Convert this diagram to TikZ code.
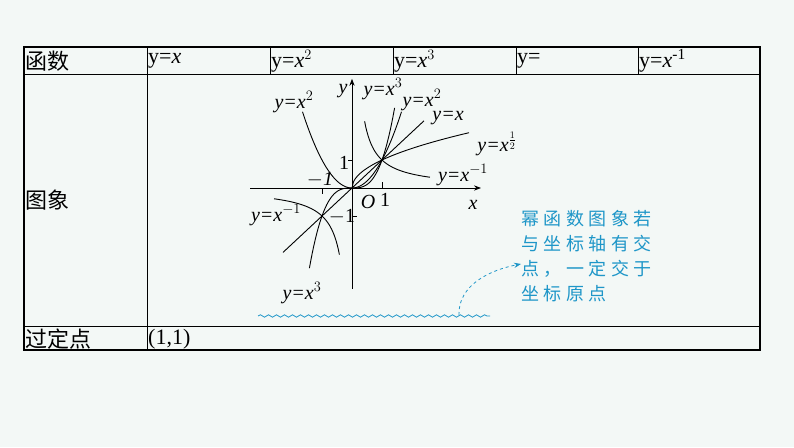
\documentclass[tikz,border=0pt]{standalone}
\usepackage{fontspec}
\setmainfont{Liberation Serif}
\newfontfamily\cjk{Noto Sans CJK SC}
\newfontfamily\cjkb[LetterSpace=25]{Noto Sans CJK SC}
\usetikzlibrary{decorations.pathmorphing,arrows.meta}
\definecolor{bg}{RGB}{243,248,246}
\definecolor{tip}{RGB}{30,150,200}
\begin{document}
\begin{tikzpicture}[x=1pt,y=-1pt,
  hd/.style={anchor=west,font=\fontsize{22}{22}\selectfont,inner sep=1pt},
  gl/.style={font=\fontsize{20}{20}\selectfont\itshape,inner sep=0pt},
  cv/.style={line width=0.9pt},
  tx/.style={anchor=west,font=\fontsize{18}{22}\selectfont\cjkb,text=tip,inner sep=0pt}]
\fill[bg] (0,0) rectangle (794,447);
\useasboundingbox (0,0) rectangle (794,447);
% table
\draw[line width=1.8pt] (24,47) rectangle (760,350);
\draw[line width=1pt] (24,74) -- (760,74);
\draw[line width=1pt] (24,326) -- (760,326);
\draw[line width=1pt] (147,47) -- (147,350);
\foreach \xx in {270,393,516,638} \draw[line width=0.8pt] (\xx,47) -- (\xx,74);
\node[hd] (h0) at (24,61) {\cjk 函数};
\node[hd] (h1) at (147,61) {y=\textit{x}};
\node[hd] (h2) at (270,61) {y=\textit{x}$^2$};
\node[hd] (h3) at (393,61) {y=\textit{x}$^3$};
\node[hd] (h4) at (516,61) {y=};
\node[hd] (h5) at (638,61) {y=\textit{x}\textsuperscript{-1}};
\node[hd] (r1) at (24,200) {\cjk 图象};
\node[hd] (r2) at (24,339) {\cjk 过定点};
\node[hd] (r3) at (147,339) {(1,1)};
% graph
\begin{scope}[shift={(352,188)},x=30pt,y=28pt]
\draw[line width=0.9pt,-{Stealth[length=7pt]}] (-3.4,0) -- (4.3,0);
\draw[line width=0.9pt,-{Stealth[length=7pt]}] (0,-3.6) -- (0,3.9);
\draw (1,0) -- (1,0.2); \draw (-1,0) -- (-1,-0.2);
\draw (0,-1) -- (0.15,-1); \draw (0,1) -- (-0.15,1);
\draw[cv] (-2.3,-2.3) -- (2.4,2.4);
\draw[cv,domain=-1.65:1.65,samples=60] plot (\x,{\x*\x});
\draw[cv,domain=-1.42:1.42,samples=60] plot (\x,{\x*\x*\x});
\draw[cv,domain=0:3.9,samples=80] plot (\x,{sqrt(\x)});
\draw[cv,domain=0.42:2.6,samples=60] plot (\x,{1/\x});
\draw[cv,domain=-2.6:-0.42,samples=60] plot (\x,{1/\x});
\end{scope}
\node[gl] (l1) at (294,102) {y=x$^2$};
\node[gl] (ly) at (343,91) {y};
\node[gl] (l2) at (383,89) {y=x$^3$};
\node[gl] (l3) at (422,100) {y=x$^2$};
\node[gl] (l4) at (448,118) {y=x};
\node[gl] (l5) at (497,144) {y=x$^{\frac12}$};
\node[gl] (l6) at (463,175) {y=x$^{-1}$};
\node[gl] (l7) at (320,180) {$-$1};
\node[gl] (l8) at (344,163) {\upshape 1};
\node[gl] (l9) at (368,202) {O};
\node[gl] (l10) at (385,200) {\upshape 1};
\node[gl] (l11) at (473,205) {x};
\node[gl] (l12) at (276,215) {y=x$^{-1}$};
\node[gl] (l13) at (342,217) {$-$\upshape 1};
\node[gl] (l14) at (302,293) {y=x$^3$};
% note
\node[tx] (n1) at (521,219) {幂函数图象若};
\node[tx] (n2) at (521,244) {与坐标轴有交};
\node[tx] (n3) at (521,269) {点，一定交于};
\node[tx] (n4) at (521,294) {坐标原点};
\coordinate (w1) at (258,316);
\coordinate (w2) at (490,316);
\draw[tip,line width=0.8pt,decorate,decoration={snake,amplitude=1.2pt,segment length=8pt}] (w1) -- (w2);
\coordinate (a0) at (459,315);
\coordinate (a1) at (521,264);
\draw[tip,line width=0.8pt,dashed,-{Stealth[length=7pt]}] (a0) .. controls (458,285) and (490,270) .. (a1);
\end{tikzpicture}
\end{document}
